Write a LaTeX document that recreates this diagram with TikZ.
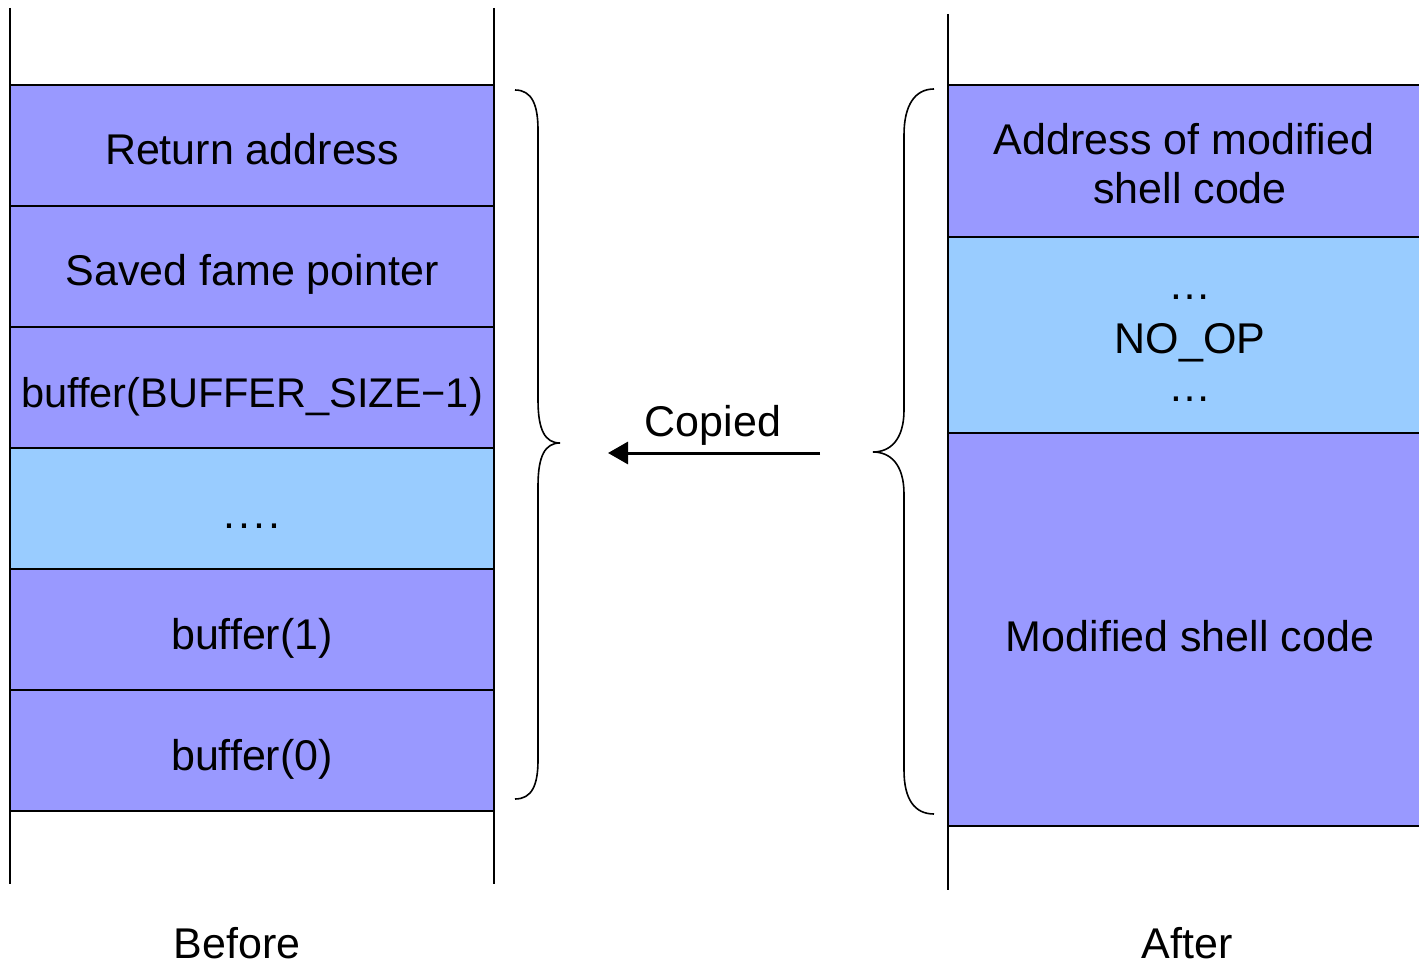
\documentclass[tikz,border=0pt]{standalone}
\usepackage{fontspec}
\setmainfont{Liberation Sans}
\usetikzlibrary{arrows.meta}
\definecolor{cellpurple}{HTML}{9999FF}
\definecolor{cellblue}{HTML}{99CCFF}
\begin{document}
\begin{tikzpicture}[x=1pt,y=-1pt,
  cell/.style={draw=black, line width=1.5pt, inner sep=0pt, fill=cellpurple, minimum width=484pt, minimum height=121pt, text height=39pt, text depth=0pt, font=\fontsize{43}{50}\selectfont},
  rcell/.style={draw=black, line width=1.5pt, inner sep=0pt, fill=cellpurple, minimum width=474pt},
  wall/.style={line width=1.5pt},
  brace/.style={line width=1.6pt},
  lbl/.style={inner sep=0pt, anchor=base, font=\fontsize{43}{50}\selectfont}]
\useasboundingbox (0,0) rectangle (1419,965);
% left walls
\coordinate (lwt) at (10,8);
\coordinate (lwb) at (10,884);
\coordinate (rwt) at (494,8);
\coordinate (rwb) at (494,884);
\draw[wall] (lwt) -- (lwb);
\draw[wall] (rwt) -- (rwb);
% left cells
\node[cell] (b1) at (252,145.5) {Return address};
\node[cell] (b2) at (252,266.5) {Saved fame pointer};
\node[cell, font=\fontsize{41.5}{50}\selectfont] (b3) at (252,387.5) {buffer(BUFFER\_SIZE−1)};
\node[cell, fill=cellblue] (b4) at (252,508.5) {.\hspace{3pt}.\hspace{3pt}.\hspace{3pt}.};
\node[cell] (b5) at (252,629.5) {buffer(1)};
\node[cell] (b6) at (252,750.5) {buffer(0)};
% right wall
\coordinate (awt) at (948,14);
\coordinate (awb) at (948,890);
% right cells
\node[rcell, minimum height=152pt] (a1) at (1185,161) {};
\node[lbl] (a1t) at (1184,155) {Address of modified};
\node[lbl] (a1u) at (1190,204) {shell code};
\node[rcell, minimum height=196pt, fill=cellblue] (a2) at (1185,335) {};
\node[lbl] (a2t) at (1190,300) {…};
\node[lbl] (a2u) at (1190,354) {NO\_OP};
\node[lbl] (a2v) at (1190,402) {…};
\node[rcell, minimum height=393pt] (a3) at (1185,629.5) {};
\node[lbl] (a3t) at (1190,651) {Modified shell code};
\draw[wall] (awt) -- (awb);
% braces
\draw[brace] (515,90) .. controls (532,90) and (538,105) .. (538,130) -- (538,400)
  .. controls (538,430) and (545,443) .. (560,443)
  .. controls (545,443) and (538,456) .. (538,486) -- (538,760)
  .. controls (538,785) and (532,799) .. (515,799);
\draw[brace] (934,89) .. controls (915,89) and (904,105) .. (904,135) -- (904,410)
  .. controls (904,440) and (890,452) .. (873,452)
  .. controls (890,452) and (904,464) .. (904,494) -- (904,770)
  .. controls (904,800) and (915,814) .. (934,814);
% arrow
\coordinate (arrfrom) at (820,453);
\coordinate (arrto) at (608,453);
\draw[line width=3pt, -{Triangle[length=20pt,width=22pt]}] (arrfrom) -- (arrto);
\node[lbl] (copied) at (713,436) {Copied};
% bottom labels
\node[lbl] (before) at (237,958) {Before};
\node[lbl] (after) at (1187,958) {After};
\end{tikzpicture}
\end{document}
